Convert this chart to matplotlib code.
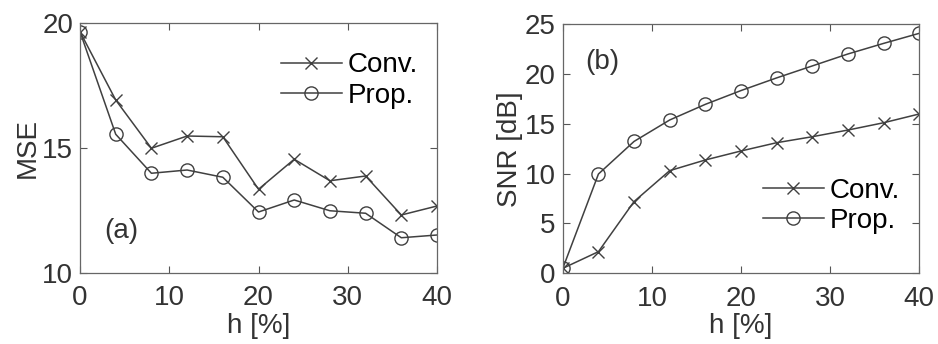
import matplotlib
matplotlib.use("Agg")
import matplotlib.pyplot as plt

plt.rcParams['font.family'] = ['Liberation Sans', 'DejaVu Sans']

h = [0, 4, 8, 12, 16, 20, 24, 28, 32, 36, 40]
mse_conv = [19.65, 16.92, 14.99, 15.48, 15.45, 13.35, 14.55, 13.69, 13.88, 12.32, 12.68]
mse_prop = [19.65, 15.55, 13.99, 14.12, 13.83, 12.44, 12.92, 12.49, 12.39, 11.41, 11.52]
snr_conv = [0.5, 2.17, 7.2, 10.3, 11.37, 12.27, 13.1, 13.7, 14.37, 15.1, 15.98]
snr_prop = [0.5, 9.96, 13.23, 15.38, 16.95, 18.33, 19.6, 20.8, 22.0, 23.06, 24.07]
labels = ['Conv.', 'Prop.']

col = '#404040'
fs = 20

fig = plt.figure(figsize=(9.38, 3.44), dpi=100)
ax1 = fig.add_axes([0.0853, 0.2064, 0.3806, 0.7267])
ax2 = fig.add_axes([0.600, 0.2055, 0.3799, 0.7245])

def style(ax):
    ax.tick_params(direction='in', top=True, right=True, length=5, width=0.8,
                   colors='#555555', labelcolor='#333333', labelsize=fs)
    ax.tick_params(axis='x', pad=9)
    ax.tick_params(axis='y', pad=5)
    for s in ax.spines.values():
        s.set_color('#666666')
        s.set_linewidth(0.9)
    ax.set_xlim(0, 40)
    ax.set_xticks([0, 10, 20, 30, 40])
    ax.set_xlabel('h [%]', fontsize=fs, color='#333333', labelpad=1)

ax1.plot(h, mse_conv, color=col, lw=1.1, marker='x', ms=8, mew=1.0, label=labels[0])
ax1.plot(h, mse_prop, color=col, lw=1.1, marker='o', ms=9.5, mew=1.0, mfc='none', label=labels[1])
style(ax1)
ax1.set_ylim(10, 20)
ax1.set_yticks([10, 15, 20])
ax1.set_ylabel('MSE', fontsize=fs, color='#333333', labelpad=1)
ax1.text(4.6, 11.7, '(a)', fontsize=fs, color='#333333', ha='center', va='center')
ax1.legend(loc='upper right', bbox_to_anchor=(1.0, 0.96), frameon=False, fontsize=fs,
           handlelength=2.2, handletextpad=0.2, borderaxespad=0.3, labelspacing=0.15)

ax2.plot(h, snr_conv, color=col, lw=1.1, marker='x', ms=8, mew=1.0, label=labels[0])
ax2.plot(h, snr_prop, color=col, lw=1.1, marker='o', ms=9.5, mew=1.0, mfc='none', label=labels[1])
style(ax2)
ax2.set_ylim(0, 25)
ax2.set_yticks([0, 5, 10, 15, 20, 25])
ax2.set_ylabel('SNR [dB]', fontsize=fs, color='#333333', labelpad=1)
ax2.text(4.4, 21.2, '(b)', fontsize=fs, color='#333333', ha='center', va='center')
ax2.legend(loc='lower right', bbox_to_anchor=(1.0, 0.08), frameon=False, fontsize=fs,
           handlelength=2.2, handletextpad=0.2, borderaxespad=0.3, labelspacing=0.15)

fig.savefig('out.png', dpi=100)
